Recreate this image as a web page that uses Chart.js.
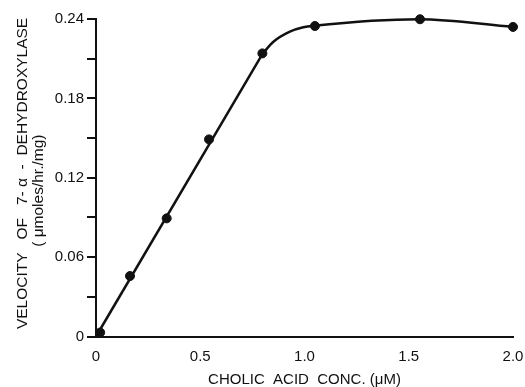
<!DOCTYPE html>
<html>
<head>
<meta charset="utf-8">
<script src="https://cdn.jsdelivr.net/npm/chart.js@4.4.1/dist/chart.umd.min.js"></script>
<style>
    html, body { margin: 0; padding: 0; background: #fff; }
    #wrap { width: 525px; height: 387px; }
</style>
</head>
<body>
<div id="wrap"><canvas id="chart" width="525" height="387"></canvas></div>
<script>
// measured points (cholic acid conc. in uM vs velocity)
const concX = [0.02, 0.163, 0.339, 0.542, 0.798, 1.05, 1.554, 2.0];
const velocityY = [0.003, 0.0457, 0.0893, 0.149, 0.214, 0.2347, 0.2398, 0.234];

// hand-drawn fit: straight part, then the bend
const lineX = [0, 0.8];
const lineY = [0, 0.214];
const bendX = [0.8, 0.851, 0.93, 0.994, 1.046, 1.55, 2.0];
const bendY = [0.214, 0.2228, 0.2304, 0.2337, 0.2349, 0.2398, 0.234];

const xTickLabels = ['0', '0.5', '1.0', '1.5', '2.0'];
const yTickLabels = ['0', '0.06', '0.12', '0.18', '0.24'];

const FONT = '"Liberation Sans", Arial, sans-serif';
const INK = '#111';

const toXY = (xs, ys) => xs.map((x, i) => ({ x: x, y: ys[i] }));

new Chart(document.getElementById('chart'), {
    type: 'scatter',
    data: {
        datasets: [
            {
                label: 'line',
                data: toXY(lineX, lineY),
                showLine: true,
                borderColor: INK,
                borderWidth: 2.5,
                pointRadius: 0,
                clip: false
            },
            {
                label: 'bend',
                data: toXY(bendX, bendY),
                showLine: true,
                borderColor: INK,
                borderWidth: 2.5,
                pointRadius: 0,
                cubicInterpolationMode: 'monotone',
                clip: false
            },
            {
                label: 'measured',
                data: toXY(concX, velocityY),
                showLine: false,
                backgroundColor: INK,
                borderColor: INK,
                pointRadius: 4.5,
                clip: false
            }
        ]
    },
    options: {
        responsive: false,
        animation: false,
        layout: {
            padding: { top: 19, right: 12, bottom: 0, left: 4 }
        },
        plugins: {
            legend: { display: false },
            tooltip: { enabled: false }
        },
        scales: {
            x: {
                type: 'linear',
                min: 0,
                max: 2,
                afterFit: function (scale) {
                    scale.height = 50.5;
                    scale.paddingLeft = 0;
                    scale.paddingRight = 0;
                },
                grid: { drawOnChartArea: false, drawTicks: false },
                border: { display: true, color: INK, width: 2 },
                ticks: {
                    stepSize: 0.5,
                    padding: 11,
                    color: INK,
                    font: { family: FONT, size: 15 },
                    callback: function (v) {
                        return xTickLabels[Math.round(v / 0.5)];
                    }
                },
                title: {
                    display: true,
                    text: 'CHOLIC  ACID  CONC. (μM)',
                    color: INK,
                    font: { family: FONT, size: 15, lineHeight: 1 },
                    padding: { top: 0, bottom: 0 }
                }
            },
            y: {
                type: 'linear',
                min: 0,
                max: 0.24,
                afterFit: function (scale) {
                    scale.width = 92;
                    scale.paddingTop = 0;
                    scale.paddingBottom = 0;
                },
                grid: { drawOnChartArea: false, drawTicks: true, tickLength: 9, color: INK, lineWidth: 2 },
                border: { display: true, color: INK, width: 2 },
                ticks: {
                    stepSize: 0.03,
                    padding: 3,
                    color: INK,
                    font: { family: FONT, size: 15 },
                    callback: function (v) {
                        const k = Math.round(v / 0.03);
                        return k % 2 === 0 ? yTickLabels[k / 2] : '';
                    }
                },
                title: {
                    display: true,
                    // extra spaces keep the two lines where the original has them
                    text: ['  VELOCITY   OF   7- α  -  DEHYDROXYLASE', '( μmoles/hr./mg)      '],
                    color: INK,
                    font: { family: FONT, size: 15.5, lineHeight: 1.07 },
                    padding: { top: 10, bottom: 0 }
                }
            }
        }
    }
});
</script>
</body>
</html>
